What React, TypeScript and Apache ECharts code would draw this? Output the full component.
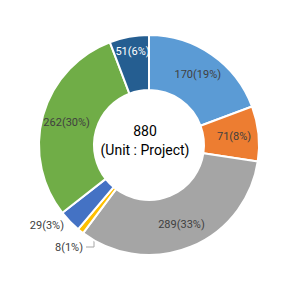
import React, { useEffect, useRef } from "react";
import * as echarts from "echarts";

const categories = ["A", "B", "C", "D", "E", "F", "G"];
const values = [170, 71, 289, 8, 29, 262, 51];
const colors = ["#5B9BD5", "#ED7D31", "#A5A5A5", "#FFC000", "#4472C4", "#70AD47", "#255E91"];
const total = 880;
const unitLabel = "(Unit : Project)";

export default function App() {
  const ref = useRef<HTMLDivElement>(null);
  useEffect(() => {
    if (!ref.current) return;
    const chart = echarts.init(ref.current, null, { renderer: "svg" });
    const sum = values.reduce((a, b) => a + b, 0);
    const data = values.map((v, i) => {
      const item: any = {
        name: categories[i],
        value: v,
        itemStyle: { color: colors[i] },
      };
      if (i === 3 || i === 4) {
        item.label = { position: "outside" };
        item.labelLine = { show: i === 3 };
      }
      if (i === 6) {
        item.label = { color: "#FFFFFF" };
      }
      return item;
    });
    chart.setOption({
      animation: false,
      graphic: [
        {
          type: "text",
          left: "center",
          top: 124,
          style: {
            text: String(total),
            fontSize: 14,
            fontFamily: "Roboto",
            fill: "#000000",
          },
        },
        {
          type: "text",
          left: "center",
          top: 143,
          style: {
            text: unitLabel,
            fontSize: 14,
            fontFamily: "Roboto",
            fill: "#000000",
          },
        },
      ],
      series: [
        {
          type: "pie",
          center: [149, 145],
          radius: [55, 110],
          startAngle: 90,
          clockwise: true,
          avoidLabelOverlap: false,
          itemStyle: { borderColor: "#FFFFFF", borderWidth: 2 },
          label: {
            show: true,
            position: "inside",
            fontSize: 11,
            fontFamily: "Roboto",
            color: "#404040",
            formatter: (p: any) => `${p.value}(${Math.round((p.value / sum) * 100)}%)`,
          },
          labelLine: { show: true, lineStyle: { color: "#A6A6A6", width: 1 } },
          labelLayout: (p: any) => {
            if (p.dataIndex === 3) {
              return {
                x: 83,
                y: 247,
                align: "right",
                verticalAlign: "middle",
                labelLinePoints: [
                  [94, 237],
                  [94, 247],
                  [86, 247],
                ],
              };
            }
            if (p.dataIndex === 4) {
              return { x: 64, y: 225, align: "right", verticalAlign: "middle" };
            }
            if (p.dataIndex === 6) {
              return { dy: -9, dx: -1 };
            }
            return {};
          },
          data,
        },
      ],
    });
    return () => chart.dispose();
  }, []);
  return (
    <div
      ref={ref}
      style={{ position: "fixed", left: 0, top: 0, width: 290, height: 290, background: "#FFFFFF" }}
    />
  );
}
